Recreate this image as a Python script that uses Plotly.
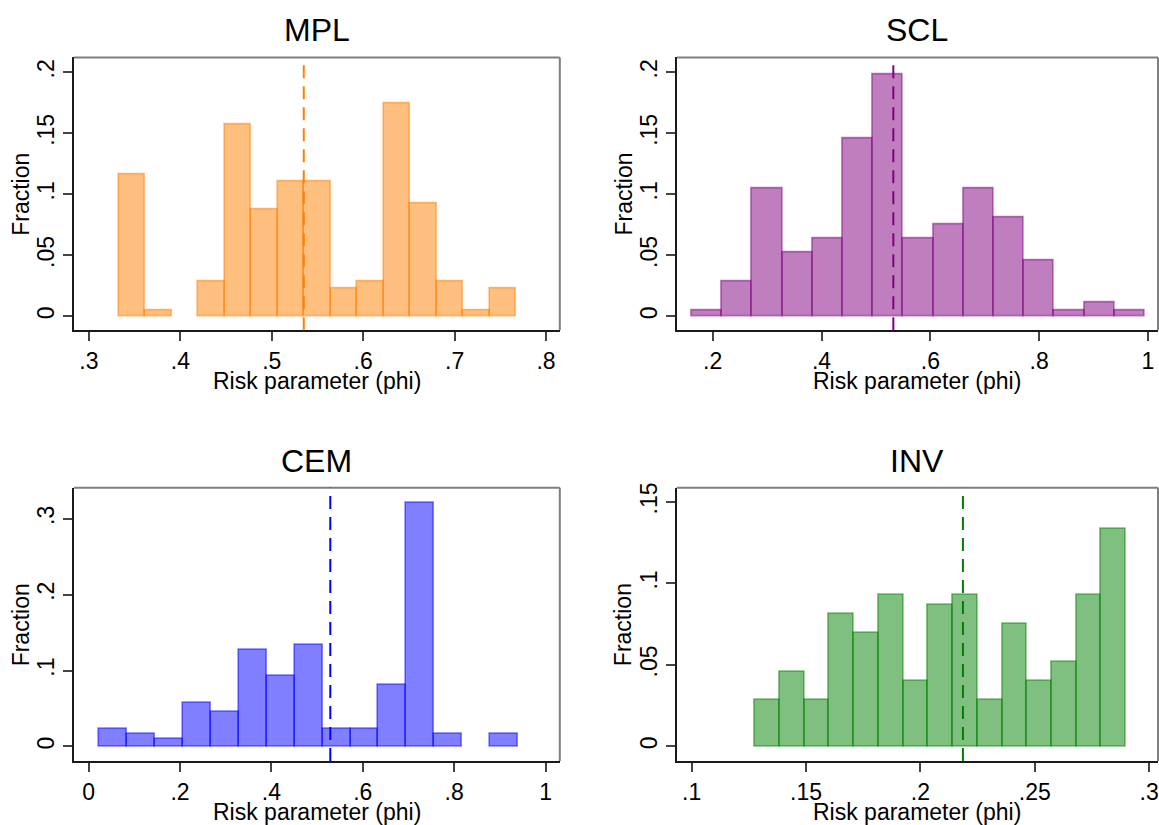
import plotly.graph_objects as go

# ---------------- data ----------------
mpl_bin_start = 0.3324
mpl_bin_width = 0.0290
mpl_fraction = [0.116, 0.0052, 0.0, 0.0288, 0.157, 0.0874, 0.1107, 0.1107,
                0.0228, 0.0288, 0.1748, 0.0928, 0.0288, 0.0052, 0.0228]
mpl_mean = 0.535

scl_bin_start = 0.1614
scl_bin_width = 0.0555
scl_fraction = [0.0052, 0.0288, 0.1047, 0.0521, 0.0638, 0.1455, 0.1984, 0.0638,
                0.0754, 0.1047, 0.0814, 0.0461, 0.0052, 0.0114, 0.0052]
scl_mean = 0.532

cem_bin_start = 0.0233
cem_bin_width = 0.0611
cem_fraction = [0.0227, 0.0162, 0.0105, 0.0576, 0.0463, 0.1275, 0.0926, 0.1336,
                0.0227, 0.0227, 0.0808, 0.321, 0.0162, 0.0, 0.0162]
cem_mean = 0.529

inv_bin_start = 0.1277
inv_bin_width = 0.01081
inv_fraction = [0.0287, 0.0461, 0.0287, 0.0811, 0.0695, 0.0929, 0.0404, 0.0872,
                0.0929, 0.0287, 0.0754, 0.0404, 0.052, 0.0929, 0.1337]
inv_mean = 0.2186

titles = ["MPL", "SCL", "CEM", "INV"]
x_title = "Risk parameter (phi)"
y_title = "Fraction"

mpl_xticks = [0.3, 0.4, 0.5, 0.6, 0.7, 0.8]
mpl_xlabels = [".3", ".4", ".5", ".6", ".7", ".8"]
scl_xticks = [0.2, 0.4, 0.6, 0.8, 1.0]
scl_xlabels = [".2", ".4", ".6", ".8", "1"]
cem_xticks = [0, 0.2, 0.4, 0.6, 0.8, 1.0]
cem_xlabels = ["0", ".2", ".4", ".6", ".8", "1"]
inv_xticks = [0.1, 0.15, 0.2, 0.25, 0.3]
inv_xlabels = [".1", ".15", ".2", ".25", ".3"]

top_yticks = [0, 0.05, 0.1, 0.15, 0.2]
top_ylabels = ["0", ".05", ".1", ".15", ".2"]
cem_yticks = [0, 0.1, 0.2, 0.3]
cem_ylabels = ["0", ".1", ".2", ".3"]
inv_yticks = [0, 0.05, 0.1, 0.15]
inv_ylabels = ["0", ".05", ".1", ".15"]

# ---------------- styling ----------------
FONT = "Arial, Liberation Sans, Helvetica, sans-serif"
W, H = 1159, 825

panels = [
    dict(start=mpl_bin_start, width=mpl_bin_width, frac=mpl_fraction, mean=mpl_mean,
         rgb=(255, 128, 0), xt=mpl_xticks, xl=mpl_xlabels, yt=top_yticks, yl=top_ylabels,
         xr=[0.2836, 0.8151], yr=[-0.0114, 0.2122],
         px=(74, 560.3), py=(52.7, 327.3)),
    dict(start=scl_bin_start, width=scl_bin_width, frac=scl_fraction, mean=scl_mean,
         rgb=(128, 0, 128), xt=scl_xticks, xl=scl_xlabels, yt=top_yticks, yl=top_ylabels,
         xr=[0.1339, 1.0184], yr=[-0.0114, 0.2122],
         px=(677.3, 1159), py=(52.7, 327.3)),
    dict(start=cem_bin_start, width=cem_bin_width, frac=cem_fraction, mean=cem_mean,
         rgb=(0, 0, 255), xt=cem_xticks, xl=cem_xlabels, yt=cem_yticks, yl=cem_ylabels,
         xr=[-0.0321, 1.0313], yr=[-0.0193, 0.341],
         px=(74, 560.3), py=(485.7, 760.7)),
    dict(start=inv_bin_start, width=inv_bin_width, frac=inv_fraction, mean=inv_mean,
         rgb=(0, 128, 0), xt=inv_xticks, xl=inv_xlabels, yt=inv_yticks, yl=inv_ylabels,
         xr=[0.09345, 0.3039], yr=[-0.009, 0.1587],
         px=(677.3, 1159), py=(485.7, 760.7)),
]

fig = go.Figure()
shapes = []
annotations = []

for i, p in enumerate(panels):
    n = i + 1
    xa = "x" if n == 1 else f"x{n}"
    ya = "y" if n == 1 else f"y{n}"
    r, g, b = p["rgb"]
    centers = [p["start"] + p["width"] * (k + 0.5) for k in range(len(p["frac"]))]
    heights = [v if v > 0 else None for v in p["frac"]]
    fig.add_trace(go.Bar(
        x=centers, y=heights, width=p["width"],
        marker=dict(color=f"rgba({r},{g},{b},0.5)",
                    line=dict(color=f"rgba({r},{g},{b},0.5)", width=1.6)),
        xaxis=xa, yaxis=ya, showlegend=False, hoverinfo="x+y",
    ))

    axis_common = dict(
        showline=True, linecolor="#1a1a1a", linewidth=2,
        ticks="outside", ticklen=9, tickwidth=1.5, tickcolor="#444",
        showgrid=False, zeroline=False, fixedrange=True,
        tickfont=dict(family=FONT, size=23, color="black"),
        tickmode="array", ticklabeloverflow="allow",
    )
    xdom = [p["px"][0] / W, p["px"][1] / W]
    ydom = [1 - p["py"][1] / H, 1 - p["py"][0] / H]
    xkey = "xaxis" if n == 1 else f"xaxis{n}"
    ykey = "yaxis" if n == 1 else f"yaxis{n}"
    fig.layout[xkey] = dict(axis_common, domain=xdom, range=p["xr"], anchor=ya,
                            tickvals=p["xt"], ticktext=p["xl"])
    fig.layout[ykey] = dict(axis_common, domain=ydom, range=p["yr"], anchor=xa,
                            tickvals=p["yt"], ticktext=p["yl"], tickangle=-90)

    xd = f"{xa} domain"
    yd = f"{ya} domain"
    # gray top and right frame lines
    shapes.append(dict(type="line", xref=xd, yref=yd, x0=0, x1=1, y0=1, y1=1,
                       line=dict(color="#7f7f7f", width=2), layer="above"))
    shapes.append(dict(type="line", xref=xd, yref=yd, x0=1, x1=1, y0=0, y1=1,
                       line=dict(color="#7f7f7f", width=2), layer="above"))
    # dashed mean line
    shapes.append(dict(type="line", xref=xa, yref=yd, x0=p["mean"], x1=p["mean"],
                       y0=0, y1=1, line=dict(color=f"rgb({r},{g},{b})", width=2,
                                             dash="13px,8px"), layer="above"))
    # panel title
    annotations.append(dict(text=titles[i], xref=xd, yref=yd, x=0.5, y=1,
                            xanchor="center", yanchor="bottom", yshift=7,
                            showarrow=False,
                            font=dict(family=FONT, size=32, color="black")))
    # x axis title
    annotations.append(dict(text=x_title, xref=xd, yref=yd, x=0.5, y=0,
                            xanchor="center", yanchor="middle", yshift=-51,
                            showarrow=False,
                            font=dict(family=FONT, size=23, color="black")))
    # y axis title
    annotations.append(dict(text=y_title, xref=xd, yref=yd, x=0, y=0.5,
                            xanchor="center", yanchor="middle", xshift=-53,
                            textangle=-90, showarrow=False,
                            font=dict(family=FONT, size=23, color="black")))

fig.update_layout(
    width=W, height=H,
    margin=dict(l=0, r=0, t=0, b=0),
    paper_bgcolor="white", plot_bgcolor="white",
    shapes=shapes, annotations=annotations,
    barmode="overlay", bargap=0,
    font=dict(family=FONT, color="black"),
)

fig.write_html("out.html")
